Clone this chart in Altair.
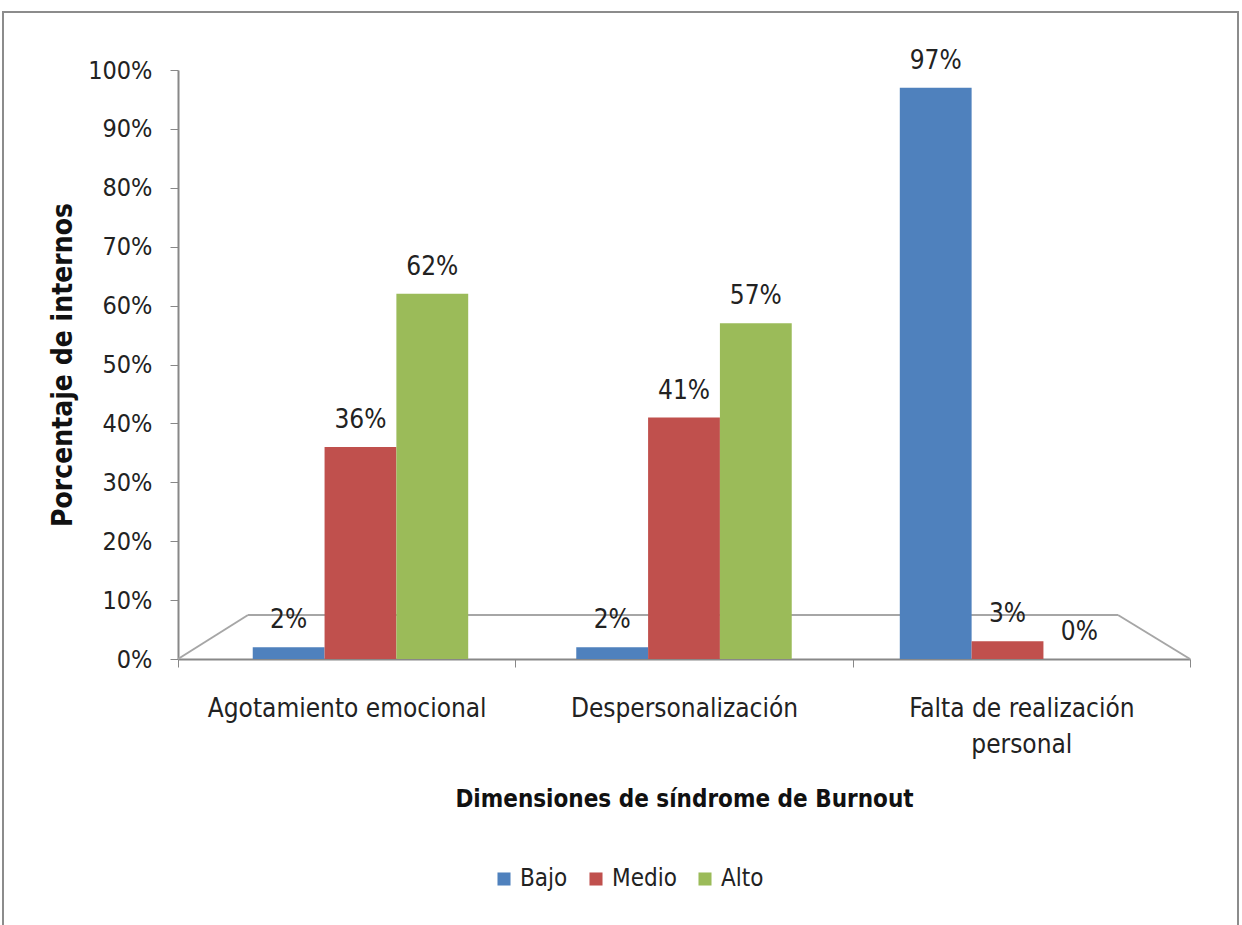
import altair as alt
import pandas as pd

# Burnout dimensions, levels and percentage of interns at each level
dimensiones = ["Agotamiento emocional", "Despersonalización", "Falta de realización personal"]
niveles = ["Bajo", "Medio", "Alto"]
bajo = [2, 2, 97]
medio = [36, 41, 3]
alto = [62, 57, 0]
colores = ["#4F81BD", "#C0504D", "#9BBB59"]

rows = []
for i, d in enumerate(dimensiones):
    for nivel, serie in zip(niveles, [bajo, medio, alto]):
        rows.append({"dimension": d, "nivel": nivel, "valor": serie[i]})
df = pd.DataFrame(rows)

FONT = "DejaVu Sans Condensed"
W, H = 1012, 589

# band scale used by the bars and their value labels
bar_scale = alt.Scale(domain=dimensiones, paddingInner=0.334, paddingOuter=0.231)
xoff = alt.XOffset("nivel:N", sort=niveles)

y_enc = alt.Y(
    "valor:Q",
    scale=alt.Scale(domain=[0, 100]),
    axis=alt.Axis(
        title="Porcentaje de internos",
        values=list(range(0, 101, 10)),
        labelExpr="datum.value + '%'",
        labelFontSize=25,
        labelFont=FONT,
        labelColor="#222",
        labelPadding=18,
        titleFontSize=28,
        titleFont=FONT,
        titleFontWeight="bold",
        titleColor="#111",
        titlePadding=10,
        grid=False,
        tickSize=8,
        tickColor="#888",
        domainColor="#888",
        domainWidth=2,
    ),
)
color = alt.Color(
    "nivel:N",
    sort=niveles,
    scale=alt.Scale(domain=niveles, range=colores),
    legend=alt.Legend(
        title=None,
        orient="none",
        legendX=314,
        legendY=H + 208,
        direction="horizontal",
        symbolType="square",
        symbolSize=170,
        labelFontSize=24,
        labelFont=FONT,
        labelColor="#222",
        columnPadding=16,
    ),
)

bars = alt.Chart(df).mark_bar().encode(
    x=alt.X("dimension:N", scale=bar_scale, axis=None),
    xOffset=xoff,
    y=y_enc,
    color=color,
)

labels = alt.Chart(df).transform_calculate(
    etiqueta="datum.valor + '%'"
).mark_text(
    baseline="bottom", dy=-14, fontSize=26, font=FONT, color="#222"
).encode(
    x=alt.X("dimension:N", scale=bar_scale, axis=None),
    xOffset=xoff,
    y="valor:Q",
    text="etiqueta:N",
)

# category axis along the front edge of the floor
axis_layer = alt.Chart(df).mark_point(opacity=0).encode(
    x=alt.X(
        "dimension:N",
        scale=alt.Scale(domain=dimensiones, paddingInner=0, paddingOuter=0),
        axis=alt.Axis(
            title="Dimensiones de síndrome de Burnout",
            labelAngle=0,
            labelFontSize=26,
            labelFont=FONT,
            labelColor="#222",
            labelPadding=28,
            labelLimit=0,
            labelExpr="datum.value == 'Falta de realización personal' ? ['Falta de realización', 'personal'] : datum.value",
            labelLineHeight=36,
            titleFontSize=24,
            titleFont=FONT,
            titleFontWeight="bold",
            titleColor="#111",
            titlePadding=30,
            tickBand="extent",
            tickSize=8,
            tickColor="#888",
            domainColor="#888",
            domainWidth=2,
        ),
    ),
    y=alt.Y("valor:Q"),
)

# floor outline drawn in perspective under the bars
floor_color = "#a6a6a6"
one = alt.Data(values=[{}])
floor_left = alt.Chart(one).mark_rule(color=floor_color, strokeWidth=2).encode(
    x=alt.value(0), x2=alt.value(70), y=alt.value(H), y2=alt.value(H - 44)
)
floor_back = alt.Chart(one).mark_rule(color=floor_color, strokeWidth=2).encode(
    x=alt.value(70), x2=alt.value(940), y=alt.value(H - 44), y2=alt.value(H - 44)
)
floor_right = alt.Chart(one).mark_rule(color=floor_color, strokeWidth=2).encode(
    x=alt.value(940), x2=alt.value(W), y=alt.value(H - 44), y2=alt.value(H)
)

# outer border around the chart
frame = alt.Chart(one).mark_rect(
    fill=None, stroke="#8c8c8c", strokeWidth=2, clip=False
).encode(
    x=alt.value(-175), x2=alt.value(1060), y=alt.value(-58), y2=alt.value(900)
)

chart = alt.layer(
    axis_layer, floor_left, floor_back, floor_right, bars, labels, frame
).resolve_scale(x="independent").properties(
    width=W,
    height=H,
    background="white",
    view=alt.ViewBackground(stroke="transparent", strokeOpacity=0, strokeWidth=0),
    autosize=alt.AutoSizeParams(type="none"),
    padding={"left": 178, "top": 70, "right": 52, "bottom": 266},
).configure_view(stroke="transparent", strokeOpacity=0, strokeWidth=0)

chart.save("out.html", embed_options={"renderer": "svg", "actions": False})
